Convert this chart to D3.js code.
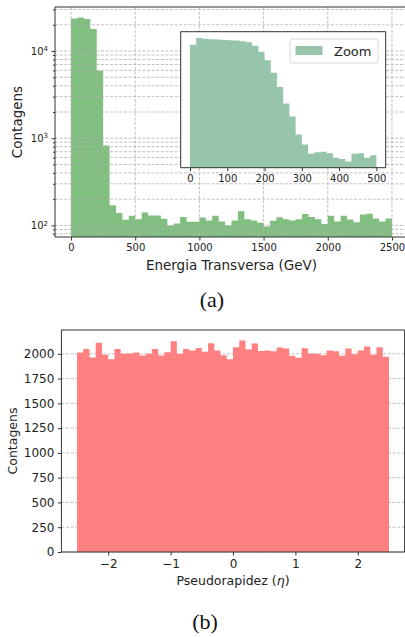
<!DOCTYPE html>
<html>
<head>
<meta charset="utf-8">
<script src="https://cdn.jsdelivr.net/npm/d3@7"></script>
<style>
  body { margin: 0; background: #fff; }
  svg { display: block; font-family: "DejaVu Sans", sans-serif; }
  .grid line { stroke: #b0b0b0; stroke-width: 0.8; stroke-dasharray: 3,1.6; }
  .spine { stroke: #333; stroke-width: 1; fill: none; }
  .tick line { stroke: #333; }
  .tick text { fill: #222; }
</style>
</head>
<body>
<svg width="405" height="637"></svg>
<script>
// Transverse energy, 50 bins over 0-2500 GeV (log counts)
const etRange = [0, 2500];
const etCounts = [23700, 24300, 23300, 17900, 5940, 826, 170, 139, 116, 129,
  118, 141, 130, 130, 119, 100, 105, 125, 110, 110,
  123, 114, 129, 111, 100, 114, 145, 118, 114, 107,
  97, 113, 124, 118, 114, 118, 135, 125, 118, 104,
  129, 111, 129, 117, 109, 133, 136, 120, 111, 120];
const etTicks = [0, 500, 1000, 1500, 2000, 2500];
const logTicks = [100, 1000, 10000];

// Zoom inset, 30 bins over 0-500 GeV
const zoomRange = [0, 500];
const zoomCounts = [6350, 8700, 8320, 8170, 8070, 7950, 7810, 7710, 7470, 7140,
  6080, 4640, 3180, 1810, 948, 449, 251, 112, 71, 47,
  50, 51, 48, 39, 37, 33, 47, 48, 39, 44];
const zoomTicks = [0, 100, 200, 300, 400, 500];

// Pseudorapidity, 50 bins over -2.5..2.5
const etaRange = [-2.5, 2.5];
const etaCounts = [2013, 2050, 1963, 2111, 1990, 1946, 2050, 2000, 2003, 2013,
  1983, 2000, 2050, 1983, 2017, 2127, 2000, 2050, 2034, 2060,
  2020, 2107, 2034, 1987, 1946, 2067, 2134, 2044, 2104, 2030,
  2034, 2027, 2064, 2054, 1980, 1960, 2057, 2003, 2000, 1987,
  2034, 2027, 1980, 2054, 1997, 2034, 2074, 1990, 2067, 1970];
const etaTicks = [-2, -1, 0, 1, 2];
const countTicks = [0, 250, 500, 750, 1000, 1250, 1500, 1750, 2000];

var svg = d3.select('svg');
var fmt = d3.format('d');

// matplotlib style 5% margins
function pad(r, f) { var d = (r[1] - r[0]) * f; return [r[0] - d, r[1] + d]; }
function logPad(vals) {
  var a = Math.log10(d3.min(vals)), b = Math.log10(d3.max(vals)), m = (b - a) * 0.05;
  return [Math.pow(10, a - m), Math.pow(10, b + m)];
}
function minorTicks(dom) {
  var out = [];
  for (var e = Math.floor(Math.log10(dom[0])); e <= Math.ceil(Math.log10(dom[1])); e++)
    for (var k = 2; k <= 9; k++) {
      var v = k * Math.pow(10, e);
      if (v >= dom[0] && v <= dom[1]) out.push(v);
    }
  return out;
}
function histPath(counts, range, x, y, base) {
  var w = (range[1] - range[0]) / counts.length;
  var pts = counts.map((c, i) => [range[0] + i * w, c]);
  pts.push([range[1], counts[counts.length - 1]]);
  return d3.area().curve(d3.curveStepAfter)
    .x(d => x(d[0])).y0(base).y1(d => y(d[1]))(pts);
}
function spines(g, box, sides) {
  sides.forEach(s => {
    var l = s == 'left' ? [box.left, box.top, box.left, box.bottom]
      : s == 'right' ? [box.right, box.top, box.right, box.bottom]
      : s == 'top' ? [box.left, box.top, box.right, box.top]
      : [box.left, box.bottom, box.right, box.bottom];
    g.append('line').attr('class', 'spine')
      .attr('x1', l[0]).attr('y1', l[1]).attr('x2', l[2]).attr('y2', l[3]);
  });
}
function styleAxis(g, size) {
  g.select('.domain').remove();
  g.attr('font-family', null).attr('font-size', size);
  g.selectAll('.tick line').attr('stroke', '#333');
}

// ***** (a) transverse energy *****
const A = { left: 55, top: 7, right: 408, bottom: 237 };
var xA = d3.scaleLinear().domain(pad(etRange, 0.05)).range([A.left, A.right]);
var yA = d3.scaleLog().domain(logPad(etCounts)).range([A.bottom, A.top]);
var gA = svg.append('g');

gA.append('path')
  .attr('d', histPath(etCounts, etRange, xA, yA, A.bottom))
  .attr('fill', '#80bf80');

// grid sits on top of the bars here
var gridA = gA.append('g').attr('class', 'grid');
gridA.selectAll('line.v').data(etTicks).enter().append('line')
  .attr('x1', d => xA(d)).attr('x2', d => xA(d))
  .attr('y1', A.top).attr('y2', A.bottom);
gridA.selectAll('line.h').data(logTicks.concat(minorTicks(yA.domain()))).enter().append('line')
  .attr('x1', A.left).attr('x2', A.right)
  .attr('y1', d => yA(d)).attr('y2', d => yA(d));

spines(gA, A, ['left', 'top', 'bottom', 'right']);

var axA = gA.append('g').attr('transform', `translate(0,${A.bottom})`)
  .call(d3.axisBottom(xA).tickValues(etTicks).tickFormat(fmt)
    .tickSize(3.5).tickPadding(3.5).tickSizeOuter(0));
styleAxis(axA, 10);

var ayA = gA.append('g').attr('transform', `translate(${A.left},0)`)
  .call(d3.axisLeft(yA).tickValues(logTicks).tickSize(3.5).tickPadding(3.5).tickSizeOuter(0));
styleAxis(ayA, 10);
ayA.selectAll('.tick text').each(function(d) {
  var t = d3.select(this).text('10');
  t.append('tspan').attr('dy', '-0.5em').attr('font-size', 7).text(Math.round(Math.log10(d)));
});
var ayAm = gA.append('g').attr('transform', `translate(${A.left},0)`)
  .call(d3.axisLeft(yA).tickValues(minorTicks(yA.domain())).tickSize(2).tickFormat('').tickSizeOuter(0));
styleAxis(ayAm, 10);

gA.append('text').attr('x', (A.left + A.right) / 2).attr('y', 270)
  .attr('text-anchor', 'middle').attr('font-size', 13.5).attr('fill', '#222')
  .text('Energia Transversa (GeV)');
gA.append('text').attr('transform', `translate(17,${(A.top + A.bottom) / 2}) rotate(-90)`)
  .attr('text-anchor', 'middle').attr('dominant-baseline', 'central')
  .attr('font-size', 13.5).attr('fill', '#222').text('Contagens');

// ***** inset *****
const B = { left: 180.7, top: 31.7, right: 385.7, bottom: 167.7 };
var xB = d3.scaleLinear().domain(pad(zoomRange, 0.05)).range([B.left, B.right]);
var yB = d3.scaleLog().domain(logPad(zoomCounts)).range([B.bottom, B.top]);
var gB = svg.append('g');

gB.append('rect').attr('x', B.left).attr('y', B.top)
  .attr('width', B.right - B.left).attr('height', B.bottom - B.top).attr('fill', '#fff');
gB.append('path')
  .attr('d', histPath(zoomCounts, zoomRange, xB, yB, B.bottom))
  .attr('fill', '#96c5ab');
spines(gB, B, ['left', 'top', 'bottom', 'right']);

var axB = gB.append('g').attr('transform', `translate(0,${B.bottom})`)
  .call(d3.axisBottom(xB).tickValues(zoomTicks).tickFormat(fmt)
    .tickSize(3.5).tickPadding(3.5).tickSizeOuter(0));
styleAxis(axB, 10);

// legend
var leg = gB.append('g');
leg.append('rect').attr('x', 290).attr('y', 39).attr('width', 88).attr('height', 24)
  .attr('rx', 2).attr('fill', '#fff').attr('stroke', '#d0d0d0').attr('stroke-width', 0.8);
leg.append('rect').attr('x', 295.5).attr('y', 46).attr('width', 27).attr('height', 9)
  .attr('fill', '#96c5ab');
leg.append('text').attr('x', 334).attr('y', 51).attr('dominant-baseline', 'central')
  .attr('font-size', 13).attr('fill', '#222').text('Zoom');

svg.append('text').attr('x', 212).attr('y', 307).attr('text-anchor', 'middle')
  .attr('font-family', '"Liberation Serif", serif').attr('font-size', 22).attr('fill', '#111')
  .text('(a)');

// ***** (b) pseudorapidity *****
const C = { left: 0, top: 330, right: 0, bottom: 552 };
var xC = d3.scaleLinear().domain(pad(etaRange, 0.05)).range([61.4, 404.6]);
C.left = xC.range()[0]; C.right = xC.range()[1];
var yC = d3.scaleLinear().domain([0, d3.max(etaCounts) * 1.05]).range([C.bottom, C.top]);
var gC = svg.append('g');

// grid below the bars here
var gridC = gC.append('g').attr('class', 'grid');
gridC.selectAll('line').data(countTicks).enter().append('line')
  .attr('x1', C.left).attr('x2', C.right)
  .attr('y1', d => yC(d)).attr('y2', d => yC(d));

gC.append('path')
  .attr('d', histPath(etaCounts, etaRange, xC, yC, C.bottom))
  .attr('fill', '#ff8080');

spines(gC, C, ['left', 'top', 'bottom', 'right']);

var axC = gC.append('g').attr('transform', `translate(0,${C.bottom})`)
  .call(d3.axisBottom(xC).tickValues(etaTicks).tickSize(3.5).tickPadding(3.5).tickSizeOuter(0)
    .tickFormat(d => fmt(d).replace('-', '\u2212')));
styleAxis(axC, 12);

var ayC = gC.append('g').attr('transform', `translate(${C.left},0)`)
  .call(d3.axisLeft(yC).tickValues(countTicks).tickFormat(fmt)
    .tickSize(3.5).tickPadding(3.5).tickSizeOuter(0));
styleAxis(ayC, 12);

var xl = gC.append('text').attr('x', (C.left + C.right) / 2).attr('y', 585)
  .attr('text-anchor', 'middle').attr('font-size', 12.5).attr('fill', '#222');
xl.append('tspan').text('Pseudorapidez (');
xl.append('tspan').attr('font-style', 'italic').text('\u03b7');
xl.append('tspan').text(')');
gC.append('text').attr('transform', `translate(12,${(C.top + C.bottom) / 2}) rotate(-90)`)
  .attr('text-anchor', 'middle').attr('dominant-baseline', 'central')
  .attr('font-size', 12.5).attr('fill', '#222').text('Contagens');

svg.append('text').attr('x', 205).attr('y', 629).attr('text-anchor', 'middle')
  .attr('font-family', '"Liberation Serif", serif').attr('font-size', 22).attr('fill', '#111')
  .text('(b)');
</script>
</body>
</html>
